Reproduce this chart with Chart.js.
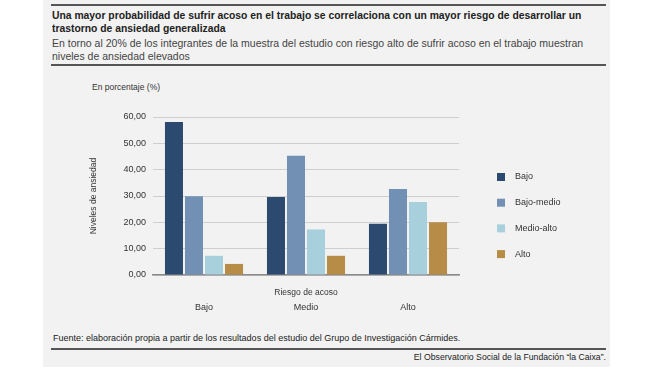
<!DOCTYPE html>
<html><head><meta charset="utf-8">
<script src="https://cdn.jsdelivr.net/npm/chart.js@4"></script>
<style>
html,body{margin:0;padding:0;background:#fff;width:667px;height:375px;overflow:hidden;}
#panel{position:absolute;left:43px;top:0;width:567px;height:367px;background:#f2f2f2;}
.rule{position:absolute;left:51px;width:555px;height:2px;background:#555;}
.t{position:absolute;white-space:nowrap;}
#title{left:52px;top:9px;font:bold 11.7px/12.5px "Liberation Sans",sans-serif;color:#222;transform:scaleX(0.885);transform-origin:0 0;}
#sub{left:52px;top:37px;font:10.5px/12.5px "Liberation Sans",sans-serif;color:#444;}
#unit{left:92px;top:82px;font:8.5px "Liberation Sans",sans-serif;color:#333;}
#src{left:53px;top:333px;font:9px "Liberation Sans",sans-serif;color:#222;}
#cred{right:61px;top:352px;font:8.7px "Liberation Sans",sans-serif;color:#222;}
#wrap{position:absolute;left:43px;top:70px;width:567px;height:250px;}
</style></head>
<body>
<div id="panel"></div>
<div class="rule" style="top:4px"></div>
<div class="t" id="title">Una mayor probabilidad de sufrir acoso en el trabajo se correlaciona con un mayor riesgo de desarrollar un<br>trastorno de ansiedad generalizada</div>
<div class="t" id="sub">En torno al 20% de los integrantes de la muestra del estudio con riesgo alto de sufrir acoso en el trabajo muestran<br>niveles de ansiedad elevados</div>
<div class="rule" style="top:64px"></div>
<div class="t" id="unit">En porcentaje (%)</div>
<div id="wrap"><canvas id="c" width="567" height="250"></canvas></div>
<div class="t" id="src">Fuente: elaboración propia a partir de los resultados del estudio del Grupo de Investigación Cármides.</div>
<div class="rule" style="top:348px"></div>
<div class="t" id="cred">El Observatorio Social de la Fundación “la Caixa”.</div>
<script>
const categories = ['Bajo', 'Medio', 'Alto'];
const seriesNames = ['Bajo', 'Bajo-medio', 'Medio-alto', 'Alto'];
const bajo = [58.1, 29.6, 19.5];
const bajoMedio = [29.9, 45.3, 32.7];
const medioAlto = [7.3, 17.3, 27.7];
const alto = [4.2, 7.3, 20.0];
const yTickLabels = ['0,00', '10,00', '20,00', '30,00', '40,00', '50,00', '60,00'];
const colors = ['#2c4a6f', '#7190b3', '#a8d0dc', '#b68c47'];

const values = [bajo, bajoMedio, medioAlto, alto];
const FONT = '"Liberation Sans", sans-serif';

const legendPlugin = {
  id: 'customLegend',
  afterDraw(chart) {
    const ctx = chart.ctx;
    ctx.save();
    ctx.font = '9px ' + FONT;
    ctx.textBaseline = 'middle';
    chart.data.datasets.forEach((ds, i) => {
      const y = 107 + i * 25.7;
      ctx.fillStyle = ds.backgroundColor;
      ctx.fillRect(454, y - 4, 8, 8);
      ctx.fillStyle = '#333';
      ctx.fillText(ds.label, 472, y);
    });
    ctx.restore();
  }
};

new Chart(document.getElementById('c'), {
  type: 'bar',
  data: {
    labels: categories,
    datasets: seriesNames.map((n, i) => ({
      label: n,
      data: values[i],
      backgroundColor: colors[i],
      categoryPercentage: 0.785,
      barPercentage: 0.9
    }))
  },
  options: {
    responsive: false,
    animation: false,
    devicePixelRatio: 1,
    layout: { padding: { left: 0, right: 151, top: 47, bottom: 0 } },
    plugins: { legend: { display: false }, tooltip: { enabled: false } },
    scales: {
      x: {
        grid: { display: false, drawTicks: false },
        border: { display: true, color: '#8a8a8a', width: 1.5 },
        ticks: { padding: 27, font: { family: FONT, size: 9 }, color: '#333' },
        title: { display: true, text: 'Riesgo de acoso', font: { family: FONT, size: 8.5 }, color: '#333', padding: { top: 0, bottom: 22 } },
        afterFit(s) { s.height = 45; }
      },
      y: {
        min: 0, max: 60,
        ticks: { stepSize: 10, padding: 7, font: { family: FONT, size: 9 }, color: '#333',
          callback: (v, i) => yTickLabels[i] },
        grid: { color: '#cfcfcf', lineWidth: 1, drawTicks: false },
        border: { display: false },
        title: { display: true, text: 'Niveles de ansiedad', font: { family: FONT, size: 8.5 }, color: '#333', padding: { top: 46, bottom: 0 } },
        afterFit(s) { s.width = 110; }
      }
    }
  },
  plugins: [legendPlugin]
});
</script>
</body></html>
